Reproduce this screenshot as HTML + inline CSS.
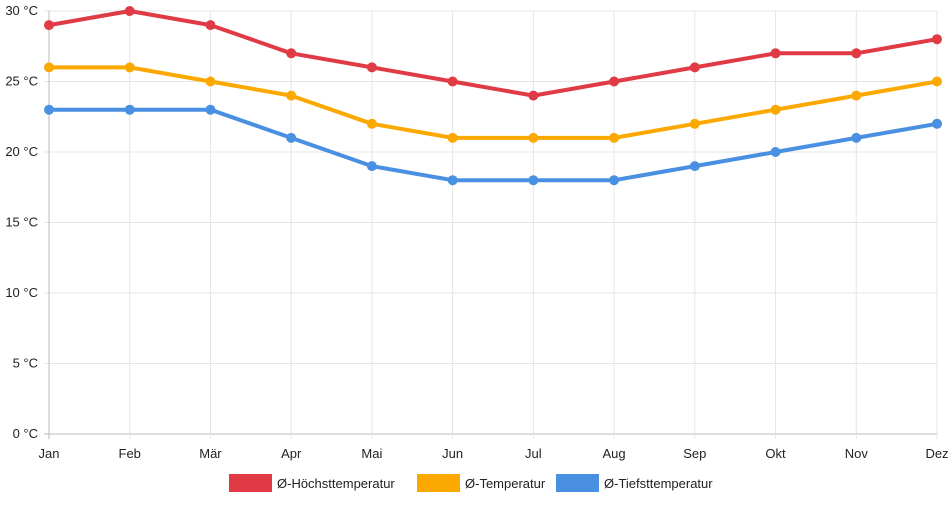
<!DOCTYPE html>
<html><head><meta charset="utf-8"><style>
body{margin:0;background:#fff;font-family:"Liberation Sans",sans-serif;}
svg text{font-family:"Liberation Sans",sans-serif;font-size:13px;fill:#222;}
</style></head><body>
<svg id="chart" width="952" height="500" viewBox="0 0 952 500"></svg>
<script>
const months=["Jan","Feb","Mär","Apr","Mai","Jun","Jul","Aug","Sep","Okt","Nov","Dez"];
const highTemps=[29,30,29,27,26,25,24,25,26,27,27,28];
const meanTemps=[26,26,25,24,22,21,21,21,22,23,24,25];
const lowTemps=[23,23,23,21,19,18,18,18,19,20,21,22];
const yTicks=[0,5,10,15,20,25,30];
const seriesNames=["Ø-Höchsttemperatur","Ø-Temperatur","Ø-Tiefsttemperatur"];
const colors=["#e03a45","#fba800","#4a90e2"];
const svg=document.getElementById('chart');
const NS="http://www.w3.org/2000/svg";
const x0=49,x1=937,y0=434,y1=11;
const xs=i=>x0+(x1-x0)*i/(months.length-1);
const ys=v=>y0-(y0-y1)*v/30;
function mk(t,a,parent){const e=document.createElementNS(NS,t);for(const k in a)e.setAttribute(k,a[k]);(parent||svg).appendChild(e);return e;}
yTicks.forEach(v=>{
 const l=mk('line',{x1:x0-5,x2:x1,y1:ys(v),y2:ys(v),stroke:v===0?'#bbb':'#e5e5e5'});
 
 
 const t=mk('text',{x:38,y:ys(v)+4,'text-anchor':'end'});t.textContent=v+' °C';
 
 
});
months.forEach((m,i)=>{
 const l=mk('line',{x1:xs(i),x2:xs(i),y1:y1,y2:y0+5,stroke:i===0?'#bbb':'#e5e5e5'});
 
 
 const t=mk('text',{x:xs(i),y:458,'text-anchor':'middle'});t.textContent=m;
 
 
});
[highTemps,meanTemps,lowTemps].forEach((s,si)=>{
 const g=mk('g',{});
 
 
 mk('polyline',{points:s.map((v,i)=>xs(i)+','+ys(v)).join(' '),fill:'none',stroke:colors[si],'stroke-width':4,'stroke-linejoin':'round'},g);
 s.forEach((v,i)=>{const c=mk('circle',{cx:xs(i),cy:ys(v),r:5,fill:colors[si]},g);
  
  });
});
const legX=[229,417,556];
seriesNames.forEach((n,i)=>{
 const g=mk('g',{});
 
 
 mk('rect',{x:legX[i],y:474,width:43,height:18,fill:colors[i]},g);
 const t=mk('text',{x:legX[i]+48,y:488},g);t.textContent=n;
});
</script>
</body></html>
